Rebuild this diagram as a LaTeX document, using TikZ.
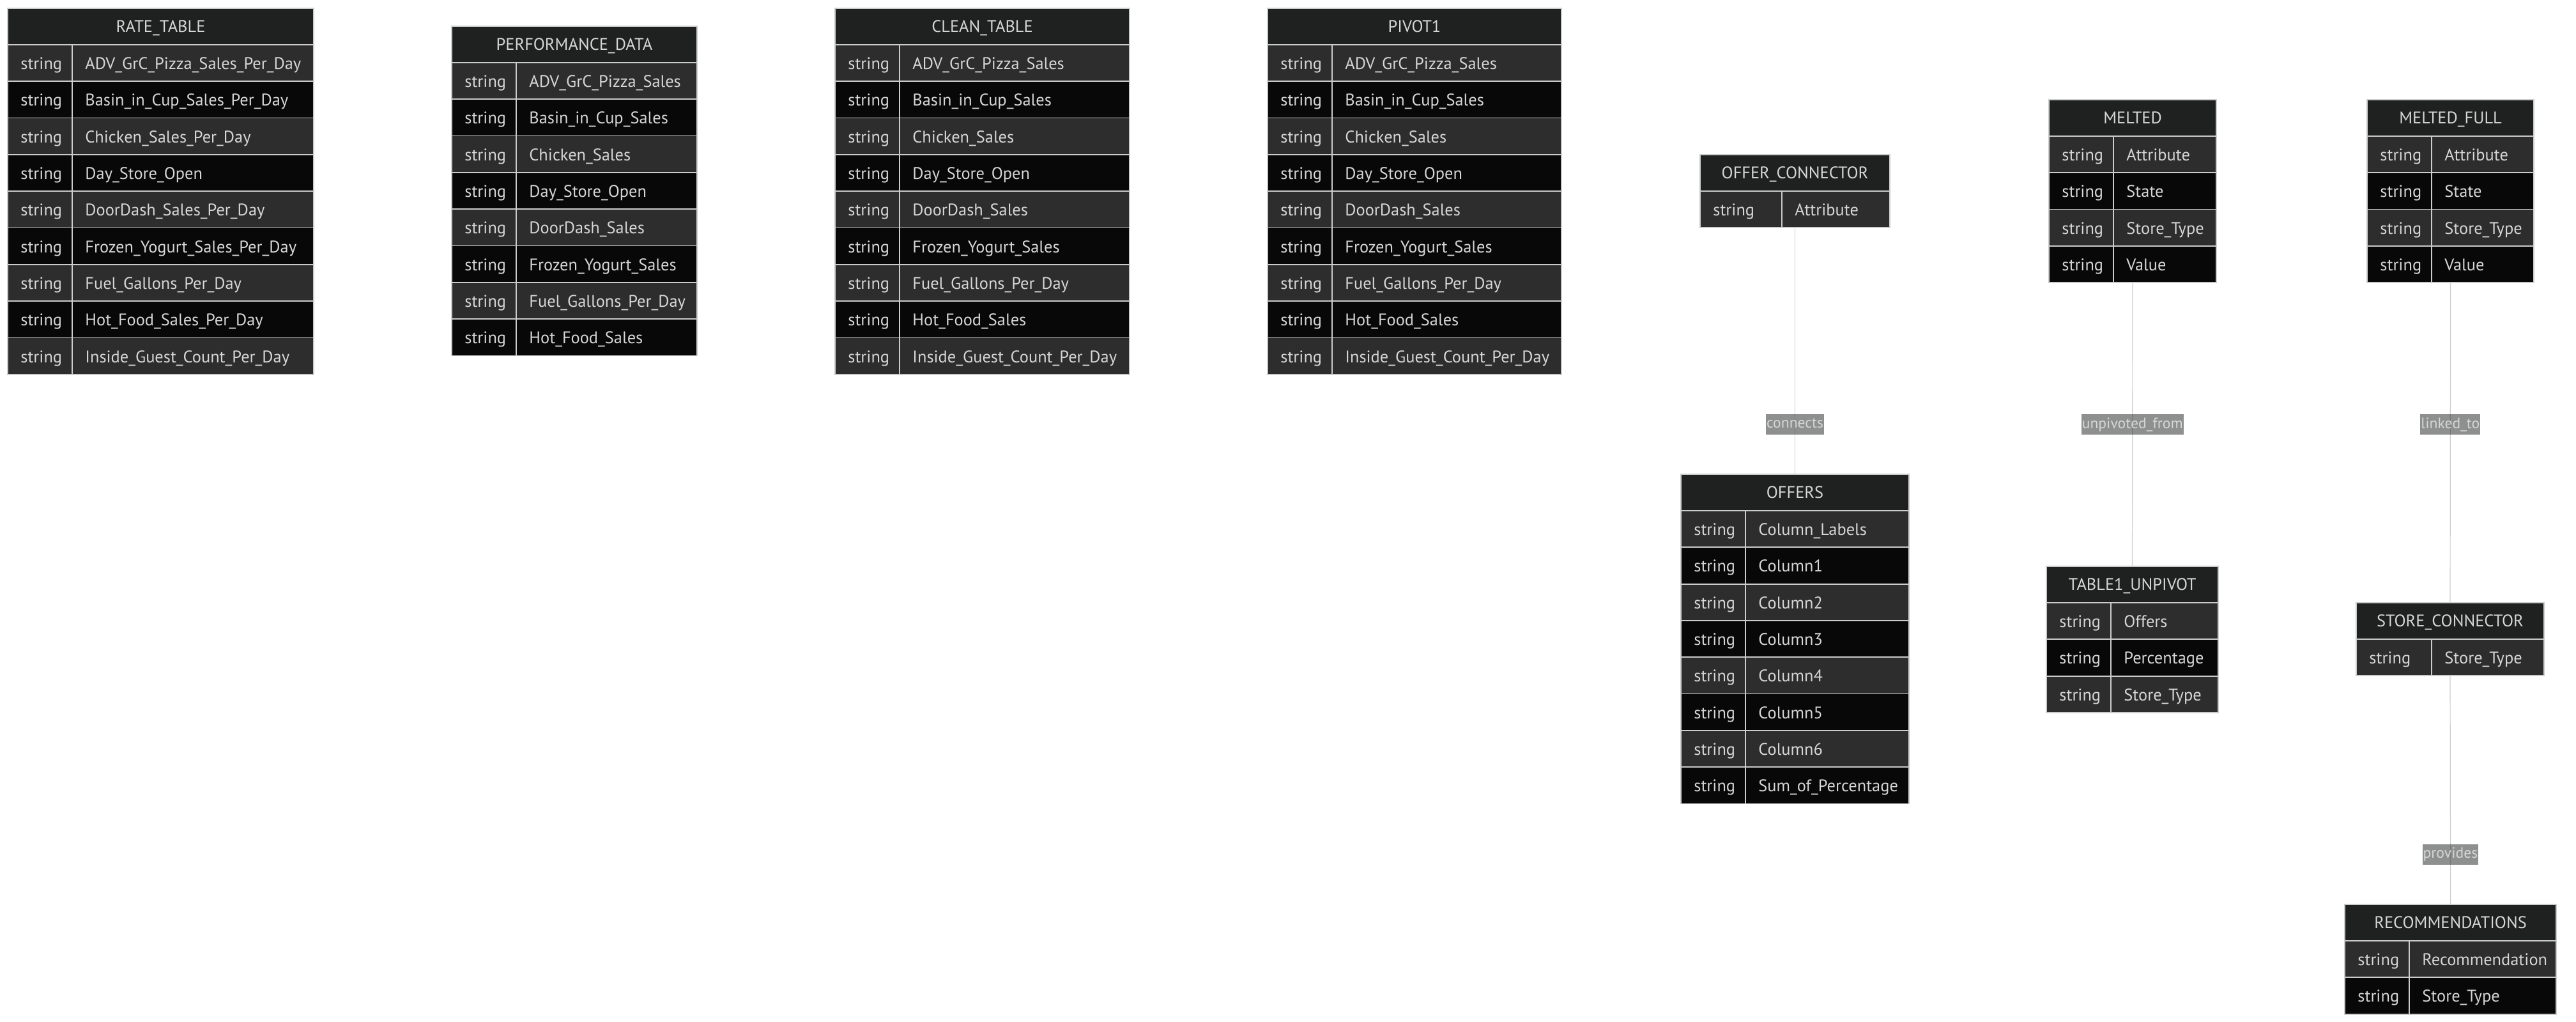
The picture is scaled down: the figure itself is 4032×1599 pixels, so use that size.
\documentclass[tikz,border=0pt]{standalone}
\usepackage{fontspec}
\setmainfont{PT Sans}
\usetikzlibrary{positioning}

\definecolor{hdrfill}{HTML}{1F2020}
\definecolor{rowodd}{HTML}{2C2D2C}
\definecolor{roweven}{HTML}{080808}
\definecolor{edgecol}{HTML}{CCCCCC}
\definecolor{txtcol}{HTML}{D6D6D6}
\definecolor{linecol}{HTML}{CFCFCF}

\tikzset{
  ertitle/.style={draw=edgecol, line width=0.9pt, fill=hdrfill, text=txtcol,
    inner sep=0pt, minimum height=28.5pt, text height=9.4pt, text depth=0pt,
    font=\fontsize{13.2}{16}\selectfont},
  errow/.style={draw=edgecol, line width=0.9pt, inner sep=0pt, minimum height=28.65pt},
  ertxt/.style={anchor=base west, text=txtcol, inner sep=0pt,
    font=\fontsize{13.2}{16}\selectfont},
  erline/.style={draw=edgecol, line width=0.9pt},
  relline/.style={draw=linecol, line width=0.6pt},
  rellabel/.style={fill=hdrfill, fill opacity=0.5, text opacity=1, text=txtcol,
    inner xsep=0.5pt, inner ysep=0pt, minimum height=16pt,
    text height=8pt, text depth=2pt, font=\fontsize{11.8}{14}\selectfont}
}

% #1 id, #2 title, #3 left, #4 divider, #5 right, #6 top, #7 fields
\newcommand{\ertable}[7]{%
  \node[ertitle, minimum width={(#5-#3)*0.5pt}] (#1) at ({(#3+#5)/2}, {#6+28.5}) {#2};
  \foreach \f [count=\i] in {#7} {
    \pgfmathsetmacro{\yc}{#6+57+(\i-0.5)*57.3}
    \pgfmathtruncatemacro{\rowpar}{mod(\i,2)}
    \ifnum\rowpar=1 \def\rowfill{rowodd}\else \def\rowfill{roweven}\fi
    \node[errow, fill=\rowfill, minimum width={(#5-#3)*0.5pt}] (#1-\i) at ({(#3+#5)/2}, \yc) {};
    \draw[erline] ({#4}, {\yc-28.65}) -- ({#4}, {\yc+28.65});
    \node[ertxt] (#1-\i-t) at ({#3+20}, {\yc+10}) {string};
    \node[ertxt] (#1-\i-n) at ({#4+20}, {\yc+10}) {\f};
  }
}

\begin{document}
\begin{tikzpicture}[x=0.5pt, y=-0.5pt]
    \fill[white] (0,0) rectangle (4032,1599);
    \useasboundingbox (0,0) rectangle (4032,1599);

    \ertable{rate}{RATE\_TABLE}{12}{113}{491}{13}{ADV\_GrC\_Pizza\_Sales\_Per\_Day, Basin\_in\_Cup\_Sales\_Per\_Day, Chicken\_Sales\_Per\_Day, Day\_Store\_Open, DoorDash\_Sales\_Per\_Day, Frozen\_Yogurt\_Sales\_Per\_Day, Fuel\_Gallons\_Per\_Day, Hot\_Food\_Sales\_Per\_Day, Inside\_Guest\_Count\_Per\_Day}
    \ertable{perf}{PERFORMANCE\_DATA}{707}{808}{1091}{41}{ADV\_GrC\_Pizza\_Sales, Basin\_in\_Cup\_Sales, Chicken\_Sales, Day\_Store\_Open, DoorDash\_Sales, Frozen\_Yogurt\_Sales, Fuel\_Gallons\_Per\_Day, Hot\_Food\_Sales}
    \ertable{clean}{CLEAN\_TABLE}{1307}{1408}{1768}{13}{ADV\_GrC\_Pizza\_Sales, Basin\_in\_Cup\_Sales, Chicken\_Sales, Day\_Store\_Open, DoorDash\_Sales, Frozen\_Yogurt\_Sales, Fuel\_Gallons\_Per\_Day, Hot\_Food\_Sales, Inside\_Guest\_Count\_Per\_Day}
    \ertable{pivot}{PIVOT1}{1984}{2085}{2444}{13}{ADV\_GrC\_Pizza\_Sales, Basin\_in\_Cup\_Sales, Chicken\_Sales, Day\_Store\_Open, DoorDash\_Sales, Frozen\_Yogurt\_Sales, Fuel\_Gallons\_Per\_Day, Hot\_Food\_Sales, Inside\_Guest\_Count\_Per\_Day}

    \ertable{offercon}{OFFER\_CONNECTOR}{2661}{2789}{2958}{242}{Attribute}
    \ertable{offers}{OFFERS}{2631}{2732}{2988}{742}{Column\_Labels, Column1, Column2, Column3, Column4, Column5, Column6, Sum\_of\_Percentage}
    \ertable{melted}{MELTED}{3207}{3308}{3469}{156}{Attribute, State, Store\_Type, Value}
    \ertable{unpivot}{TABLE1\_UNPIVOT}{3203}{3304}{3472}{886}{Offers, Percentage, Store\_Type}
    \ertable{meltedfull}{MELTED\_FULL}{3705}{3806}{3966}{156}{Attribute, State, Store\_Type, Value}
    \ertable{storecon}{STORE\_CONNECTOR}{3688}{3806}{3982}{943}{Store\_Type}
    \ertable{recs}{RECOMMENDATIONS}{3670}{3771}{4001}{1415}{Recommendation, Store\_Type}

    % relations
    \draw[relline] (offercon-1.south) -- node[rellabel, pos=0.798] (lbl-connects) {connects} (offers.north);
    \draw[relline] (melted-4.south) -- node[rellabel, pos=0.5] (lbl-unpivoted) {unpivoted\_from} (unpivot.north);
    \draw[relline] (meltedfull-4.south) -- node[rellabel, pos=0.443] (lbl-linked) {linked\_to} (storecon.north);
    \draw[relline] (storecon-1.south) -- node[rellabel, pos=0.782] (lbl-provides) {provides} (recs.north);
\end{tikzpicture}
\end{document}
